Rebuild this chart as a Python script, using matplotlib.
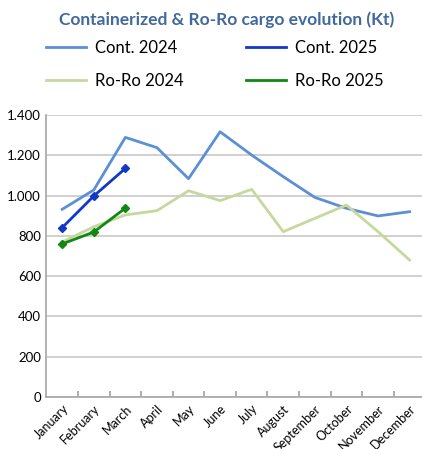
import numpy as np
import matplotlib.pyplot as plt
from matplotlib.ticker import FuncFormatter

months = ['January', 'February', 'March', 'April', 'May', 'June', 'July',
          'August', 'September', 'October', 'November', 'December']
cont_2024 = [932, 1028, 1289, 1238, 1084, 1317, 1201, 1094, 991, 937, 899, 920]
roro_2024 = [770, 845, 904, 925, 1024, 975, 1031, 821, 887, 953, 821, 680]
cont_2025 = [841, 998, 1135]
roro_2025 = [760, 819, 938]

plt.rcParams['font.family'] = ['Lato', 'DejaVu Sans']

fig = plt.figure(figsize=(4.22, 4.49), dpi=100)
ax = fig.add_axes([0.110, 0.1158, 0.898, 0.628])

x = np.arange(len(months))
l1, = ax.plot(x, cont_2024, color='#5B8FD6', lw=2, label='Cont. 2024')
l2, = ax.plot(x[:3], cont_2025, color='#1238C8', lw=2, marker='D', ms=4, label='Cont. 2025')
l3, = ax.plot(x, roro_2024, color='#C5D89E', lw=2, label='Ro-Ro 2024')
l4, = ax.plot(x[:3], roro_2025, color='#118811', lw=2, marker='D', ms=4, label='Ro-Ro 2025')

ax.set_xlim(-0.5, 11.5)
ax.set_ylim(0, 1400)
ax.set_yticks(np.arange(0, 1401, 200))
ax.yaxis.set_major_formatter(FuncFormatter(lambda v, p: f'{int(v):,}'.replace(',', '.')))
ax.grid(axis='y', color='#C8C8C8', lw=1.2)
ax.set_axisbelow(True)

ax.set_xticks(x)
ax.set_xticklabels(months, rotation=45, ha='right', rotation_mode='anchor', fontsize=9)
ax.set_xticks(np.arange(0.5, 11, 1), minor=True)
ax.tick_params(axis='x', which='major', length=0, pad=4)
ax.tick_params(axis='x', which='minor', direction='in', length=4, color='#A0A0A0', width=1.2)
ax.tick_params(axis='y', length=0, labelsize=9.5, pad=4)

for s in ['top', 'right']:
    ax.spines[s].set_visible(False)
for s in ['left', 'bottom']:
    ax.spines[s].set_color('#A6A6A6')
    ax.spines[s].set_linewidth(1.2)

fig.text(0.536, 0.955, 'Containerized & Ro-Ro cargo evolution (Kt)', ha='center', va='center',
         fontsize=12.5, fontweight='bold', color='#41699C')
fig.legend(handles=[l1, l3, l2, l4], labels=['Cont. 2024', 'Ro-Ro 2024', 'Cont. 2025', 'Ro-Ro 2025'],
           ncol=2, loc='center', bbox_to_anchor=(0.509, 0.857), frameon=False, fontsize=12,
           handlelength=2.4, handletextpad=0.55, columnspacing=3.7, labelspacing=1.0, markerscale=0)

fig.savefig('out.png', dpi=100)
